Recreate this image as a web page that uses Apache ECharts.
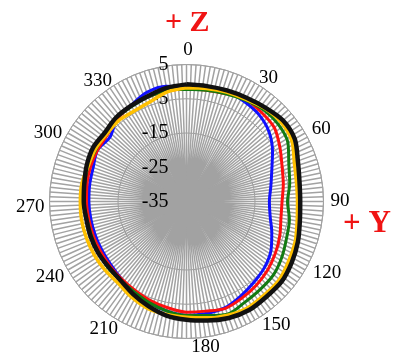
<!DOCTYPE html>
<html>
<head>
<meta charset="utf-8">
<script src="https://cdn.jsdelivr.net/npm/echarts@6/dist/echarts.min.js"></script>
<style>
  html, body { margin: 0; padding: 0; background: #fff; }
  #chart { width: 398px; height: 355px; }
</style>
</head>
<body>
<div id="chart"></div>
<script>
// angle in degrees (clockwise from +Z), one value every 10 deg
const angles = [0, 10, 20, 30, 40, 50, 60, 70, 80, 90, 100, 110, 120, 130, 140, 150, 160, 170,
  180, 190, 200, 210, 220, 230, 240, 250, 260, 270, 280, 290, 300, 310, 320, 330, 340, 350]

// gain in dB
const blue = [-1.5, -1.0, -0.8, -1.3, -2.0, -3.5, -6.0, -8.5, -10.0, -10.8, -10.2, -8.5, -6.5, -5.2,
  -4.3, -3.2, -2.0, -1.8, -1.8, -2.5, -3.5, -4.5, -5.5, -6.2, -6.5, -6.6, -6.6, -6.5, -6.3, -6.0,
  -5.0, -5.8, -3.5, -2.6, -1.1, -0.8]
const red = [-2.0, -2.0, -1.5, -0.5, -1.0, -1.5, -3.5, -5.3, -6.3, -7.1, -7.0, -6.0, -5.0, -4.0,
  -3.2, -2.5, -1.8, -2.5, -2.7, -3.5, -4.2, -5.0, -5.5, -5.8, -6.0, -6.0, -6.0, -5.8, -5.5, -5.2,
  -5.0, -4.8, -3.5, -2.8, -2.5, -2.2]
const green = [-2.2, -2.0, -1.5, -0.8, 0.0, 0.0, -0.8, -3.2, -4.4, -5.5, -4.5, -3.9, -2.8, -1.8,
  -1.5, -1.0, 0.0, -1.2, -1.7, -2.5, -3.5, -4.5, -5.0, -5.0, -5.3, -5.5, -5.5, -5.0, -4.8, -4.5,
  -4.5, -4.0, -3.2, -3.0, -2.5, -2.0]
const yellow = [-1.8, -1.5, -1.0, -0.5, 0.5, 1.0, 0.5, -1.5, -2.4, -2.6, -2.2, -1.2, -0.5, 0.4,
  0.5, 0.8, 0.3, -0.5, -1.2, -1.5, -1.8, -2.8, -3.9, -3.9, -3.9, -3.9, -3.9, -4.0, -4.0, -4.5,
  -4.3, -4.5, -4.2, -4.5, -4.0, -2.5]
const black = [-0.8, -0.8, -0.5, 0.0, 0.8, 1.8, 1.5, -0.4, -1.5, -1.8, -1.4, -0.4, 0.5, 1.3,
  1.3, 1.6, 1.2, 0.3, -0.5, -1.2, -2.5, -3.8, -5.0, -5.3, -5.2, -5.2, -5.3, -5.0, -4.7, -4.0,
  -3.5, -3.8, -3.0, -2.7, -2.2, -1.3]

const SERIES = [
  { name: 'blue', values: blue, color: '#1010ff', width: 3 },
  { name: 'red', values: red, color: '#ff1010', width: 3 },
  { name: 'green', values: green, color: '#127a12', width: 3 },
  { name: 'yellow', values: yellow, color: '#ffc000', width: 3.5 },
  { name: 'black', values: black, color: '#111111', width: 4.5 },
]

const SERIF = 'Liberation Serif'
const GRID = '#a2a2a2'

// per-label nudges [top, right, bottom, left] so angle labels sit like the original
const LABEL_PAD = {
  0: [0, 0, 25, 3], 30: [0, 0, 13, 14], 60: [0, 0, 4, 24], 90: [0, 0, 1, 27],
  120: [4, 0, 0, 25], 150: [13, 0, 0, 17], 180: [19, 0, 0, 38], 210: [17, 10, 0, 0],
  240: [8, 21, 0, 0], 270: [12, 25, 0, 0], 300: [0, 23, 0, 0], 330: [0, 16, 10, 0],
}
const rich = {}
Object.keys(LABEL_PAD).forEach((k) => {
  rich['a' + k] = { fontFamily: SERIF, fontSize: 19, color: '#000', padding: LABEL_PAD[k] }
})

// closed loop: repeat the first point at 360
const ring = (vals) => angles.map((a, i) => [vals[i], a]).concat([[vals[0], 360]])

const chart = echarts.init(document.getElementById('chart'), null, { renderer: 'canvas' })

chart.setOption({
  animation: false,
  title: [
    { text: '+ Z', left: 165, top: 8, padding: 0,
      textStyle: { fontFamily: SERIF, fontSize: 30, fontWeight: 'bold', color: '#f01414' } },
    { text: '+ Y', left: 343, top: 208, padding: 0,
      textStyle: { fontFamily: SERIF, fontSize: 31, fontWeight: 'bold', color: '#f01414' } },
  ],
  polar: { center: [186.5, 201.5], radius: 137 },
  angleAxis: {
    type: 'value',
    min: 0,
    max: 360,
    interval: 30,
    startAngle: 90,
    clockwise: true,
    axisLine: { show: true, lineStyle: { color: GRID, width: 1 } },
    axisTick: { show: false },
    axisLabel: {
      margin: -20,
      formatter: (v) => (v === 360 ? '' : `{a${v}|${v}}`),
      rich,
    },
    splitLine: { show: true, lineStyle: { color: GRID, width: 1.5 } },
    minorTick: { show: false, splitNumber: 15 },
    minorSplitLine: { show: true, lineStyle: { color: GRID, width: 1.5 } },
  },
  radiusAxis: {
    type: 'value',
    min: -35,
    max: 5,
    interval: 10,
    axisLine: { show: false },
    axisTick: { show: false },
    axisLabel: { fontFamily: SERIF, fontSize: 20, color: '#000', margin: 18 },
    splitLine: { show: true, lineStyle: { color: '#999', width: 1 } },
  },
  series: SERIES.map((s) => ({
    name: s.name,
    type: 'line',
    coordinateSystem: 'polar',
    showSymbol: false,
    smooth: 0.3,
    lineStyle: { color: s.color, width: s.width },
    data: ring(s.values),
  })),
})
</script>
</body>
</html>
